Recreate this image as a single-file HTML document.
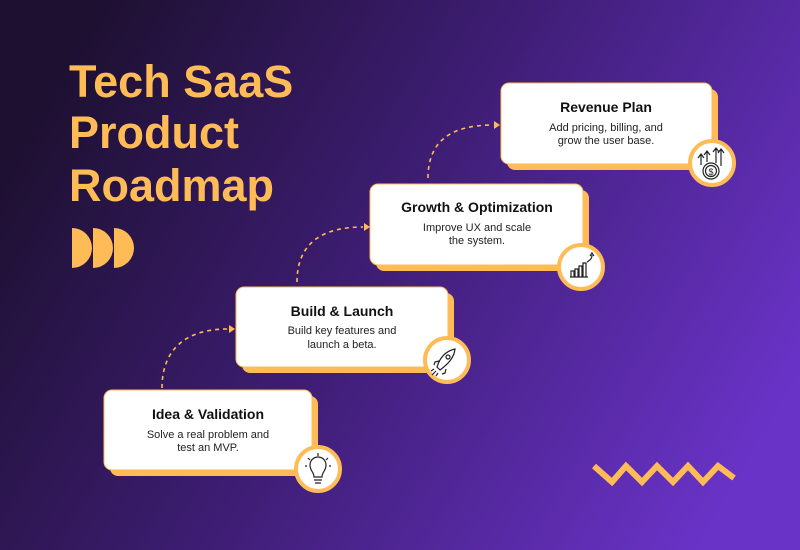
<!DOCTYPE html>
<html><head><meta charset="utf-8"><style>
html,body{margin:0;padding:0;width:800px;height:550px;overflow:hidden}
</style></head><body>
<svg width="800" height="550" viewBox="0 0 800 550" xmlns="http://www.w3.org/2000/svg">
<defs>
<linearGradient id="bg" x1="0" y1="0.3" x2="1" y2="0.7">
<stop offset="0" stop-color="#1d1030"/>
<stop offset="0.45" stop-color="#3d1d72"/>
<stop offset="1" stop-color="#6a33c8"/>
</linearGradient>
</defs>
<rect width="800" height="550" fill="url(#bg)"/>
<g font-family="Liberation Sans, sans-serif" font-weight="bold" font-size="45" fill="#ffbb55">
<text x="69" y="97">Tech SaaS</text>
<text x="69" y="148">Product</text>
<text x="69" y="201">Roadmap</text>
</g>
<g fill="#ffbb55">
<path d="M72 228 A20 20 0 0 1 72 268 Z"/>
<path d="M93 228 A20 20 0 0 1 93 268 Z"/>
<path d="M114 228 A20 20 0 0 1 114 268 Z"/>
</g>
<polyline points="594,466 612,482 626,466 642,482 657,466 673,482 688,466 703,482 718,466 734,478" fill="none" stroke="#ffbb55" stroke-width="6"/>
<g fill="none" stroke="#ffbb55" stroke-width="1.6" stroke-dasharray="4,4">
<path d="M162 388 C162 350 185 329 228 329"/>
<path d="M297 282 C297 245 320 227 363 227"/>
<path d="M428 178 C428 142 450 125 493 125"/>
</g>
<g fill="#ffbb55">
<path d="M229 325 L235 329 L229 333 Z"/>
<path d="M364 223 L370 227 L364 231 Z"/>
<path d="M494 121 L500 125 L494 129 Z"/>
</g>
<g font-family="Liberation Sans, sans-serif" text-anchor="middle">
<rect x="110" y="396" width="208" height="80" rx="8" fill="#ffbb55"/>
<rect x="104" y="390" width="208" height="80" rx="8" fill="#fff" stroke="#ffbb55"/>
<text x="208" y="419" font-size="14" font-weight="bold" fill="#111">Idea &amp; Validation</text>
<text x="208" y="438" font-size="11" fill="#222">Solve a real problem and</text>
<text x="208" y="451" font-size="11" fill="#222">test an MVP.</text>
<rect x="242" y="293" width="212" height="80" rx="8" fill="#ffbb55"/>
<rect x="236" y="287" width="212" height="80" rx="8" fill="#fff" stroke="#ffbb55"/>
<text x="342" y="316" font-size="14" font-weight="bold" fill="#111">Build &amp; Launch</text>
<text x="342" y="334" font-size="11" fill="#222">Build key features and</text>
<text x="342" y="348" font-size="11" fill="#222">launch a beta.</text>
<rect x="376" y="190" width="213" height="81" rx="8" fill="#ffbb55"/>
<rect x="370" y="184" width="213" height="81" rx="8" fill="#fff" stroke="#ffbb55"/>
<text x="477" y="212" font-size="14" font-weight="bold" fill="#111">Growth &amp; Optimization</text>
<text x="477" y="231" font-size="11" fill="#222">Improve UX and scale</text>
<text x="477" y="244" font-size="11" fill="#222">the system.</text>
<rect x="507" y="89" width="211" height="81" rx="8" fill="#ffbb55"/>
<rect x="501" y="83" width="211" height="81" rx="8" fill="#fff" stroke="#ffbb55"/>
<text x="606" y="112" font-size="14" font-weight="bold" fill="#111">Revenue Plan</text>
<text x="606" y="131" font-size="11" fill="#222">Add pricing, billing, and</text>
<text x="606" y="144" font-size="11" fill="#222">grow the user base.</text>
</g>
<g fill="#fff" stroke="#ffbb55" stroke-width="4">
<circle cx="318" cy="469" r="22"/>
<circle cx="447" cy="360" r="22"/>
<circle cx="581" cy="267" r="22"/>
<circle cx="712" cy="163" r="22"/>
</g>
<g fill="none" stroke="#222" stroke-width="1.2">
<path d="M314 477 C314 472 310 471 310 465 A8 8 0 0 1 326 465 C326 471 322 472 322 477 Z"/>
<path d="M314 480 H322 M315 483 H321"/>
<path d="M318 453 V456 M308 458 L310 460 M328 458 L326 460 M305 466 H307 M329 466 H331"/>
<path d="M440 370 L437 367 C440 357 446 351 455 349 C454 358 448 364 440 370 Z"/>
<circle cx="448" cy="357" r="2"/>
<path d="M439 361 L435 362 L434 365 M446 369 L445 373 L442 374 M436 371 L432 375 M434 369 L431 371 M438 373 L436 376"/>
<path d="M571 277 V271 H574 V277 M575 277 V269 H578 V277 M579 277 V266 H582 V277 M583 277 V263 H586 V277 M570 277 H588 M587 262 C590 260 592 259 592 255"/>
<path d="M590 256 L592 253 L594 256"/>
<circle cx="711" cy="171" r="8"/><circle cx="711" cy="171" r="5.5"/>
<path d="M701 165 V155 M698 158 L701 154 L704 158 M707 162 V152 M704 155 L707 151 L710 155 M716 163 V149 M713 152 L716 148 L719 152 M721 166 V150 M718 153 L721 149 L724 153"/>
</g>
<text x="711" y="175" font-family="Liberation Sans, sans-serif" font-size="9" text-anchor="middle" fill="#222">$</text>
</svg>
</body></html>
